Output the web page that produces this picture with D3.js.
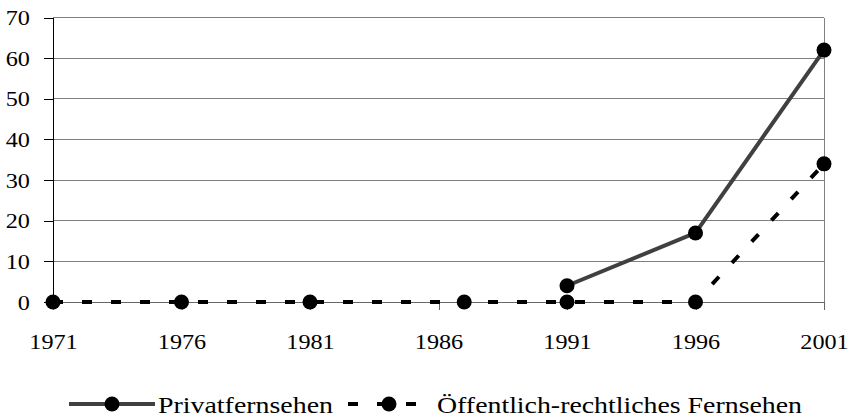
<!DOCTYPE html>
<html><head><meta charset="utf-8">
<script src="https://cdn.jsdelivr.net/npm/d3@7"></script>
<style>
html,body{margin:0;padding:0;background:#fff;}
svg{display:block;}
text{font-family:"Liberation Serif","Times New Roman",serif;fill:#000;}
</style></head>
<body>
<svg id="c" width="849" height="418"></svg>
<script>
const years = [1971, 1976, 1981, 1987, 1991, 1996, 2001];
const privat = [null, null, null, null, 4, 17, 62];
const oeffentlich = [0, 0, 0, 0, 0, 0, 34];
const xTicks = [1971, 1976, 1981, 1986, 1991, 1996, 2001];
const yTicks = [0, 10, 20, 30, 40, 50, 60, 70];
const seriesNames = ["Privatfernsehen", "Öffentlich-rechtliches Fernsehen"];

const svg = d3.select("#c");
const L = 53, R = 824, T = 17.6, B = 302;
const x = d3.scaleLinear().domain([1971, 2001]).range([L, R]);
const y = d3.scaleLinear().domain([0, 70]).range([B, T]);
const FS = 22, SX = 1.1;

// gridlines
svg.append("g").selectAll("line").data(yTicks.filter(d => d > 0)).join("line")
  .attr("x1", L).attr("x2", R).attr("y1", d => y(d)).attr("y2", d => y(d))
  .attr("stroke", "#808080").attr("stroke-width", 1).attr("shape-rendering", "crispEdges");
// right border
svg.append("line").attr("x1", R).attr("x2", R).attr("y1", T).attr("y2", B)
  .attr("stroke", "#808080").attr("shape-rendering", "crispEdges");

// x axis
const gx = svg.append("g").attr("transform", `translate(0,${B})`)
  .call(d3.axisBottom(x).tickValues(xTicks).tickFormat(d3.format("d")).tickSize(8).tickPadding(23));
gx.select(".domain").attr("stroke", "#666").attr("shape-rendering", "crispEdges");
gx.selectAll(".tick line").attr("stroke", "#666").attr("shape-rendering", "crispEdges");
gx.selectAll(".tick text").attr("font-size", FS)
  .attr("fill", "#000").attr("transform", `scale(${SX},1)`);

// y axis
const gy = svg.append("g").attr("transform", `translate(${L},0)`)
  .call(d3.axisLeft(y).tickValues(yTicks).tickSize(9).tickPadding(12));
gy.select(".domain").attr("stroke", "#000").attr("shape-rendering", "crispEdges");
gy.selectAll(".tick line").attr("stroke", "#000").attr("shape-rendering", "crispEdges");
gy.selectAll(".tick text").attr("font-size", FS)
  .attr("fill", "#000").attr("transform", `scale(${SX},1)`);

const line = d3.line().defined(d => d[1] !== null).x(d => x(d[0])).y(d => y(d[1]));
const oData = years.map((yr, i) => [yr, oeffentlich[i]]);
const pData = years.map((yr, i) => [yr, privat[i]]);

svg.append("path").datum(oData).attr("d", line).attr("fill", "none")
  .attr("stroke", "#000").attr("stroke-width", 4).attr("stroke-dasharray", "10,19");
svg.append("path").datum(pData).attr("d", line).attr("fill", "none")
  .attr("stroke", "#404040").attr("stroke-width", 4);

svg.append("g").selectAll("circle").data(oData).join("circle")
  .attr("cx", d => x(d[0])).attr("cy", d => y(d[1])).attr("r", 7.5).attr("fill", "#000");
svg.append("g").selectAll("circle").data(pData.filter(d => d[1] !== null)).join("circle")
  .attr("cx", d => x(d[0])).attr("cy", d => y(d[1])).attr("r", 7.5).attr("fill", "#000");

// legend
const ly = 404, tb = 413;
svg.append("line").attr("x1", 69).attr("x2", 155).attr("y1", ly).attr("y2", ly)
  .attr("stroke", "#404040").attr("stroke-width", 4);
svg.append("circle").attr("cx", 112).attr("cy", ly).attr("r", 7.5).attr("fill", "#000");
svg.append("text").attr("x", 158).attr("y", tb).attr("font-size", FS + 1)
  .attr("textLength", 175).attr("lengthAdjust", "spacingAndGlyphs").text(seriesNames[0]);

svg.append("line").attr("x1", 348).attr("x2", 431).attr("y1", ly).attr("y2", ly)
  .attr("stroke", "#000").attr("stroke-width", 4).attr("stroke-dasharray", "10,19");
svg.append("circle").attr("cx", 389).attr("cy", ly).attr("r", 7.5).attr("fill", "#000");
svg.append("text").attr("x", 437).attr("y", tb).attr("font-size", FS + 1)
  .attr("textLength", 365).attr("lengthAdjust", "spacingAndGlyphs").text(seriesNames[1]);
</script>
</body></html>
